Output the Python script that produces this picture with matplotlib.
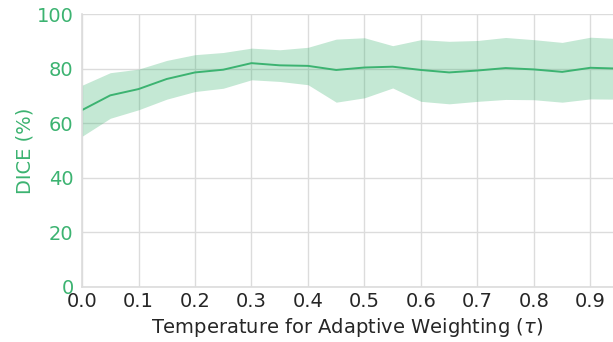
import numpy as np
import matplotlib
matplotlib.use("Agg")
import matplotlib.pyplot as plt

# temperature values and DICE (mean, upper, lower)
tau = [0.0, 0.05, 0.1, 0.15, 0.2, 0.25, 0.3, 0.35, 0.4, 0.45,
       0.5, 0.55, 0.6, 0.65, 0.7, 0.75, 0.8, 0.85, 0.9, 0.95]
dice_mean = [64.8, 70.2, 72.5, 76.2, 78.6, 79.6, 82.0, 81.2, 81.0, 79.5,
             80.4, 80.7, 79.5, 78.6, 79.3, 80.2, 79.7, 78.8, 80.3, 80.0]
dice_upper = [73.9, 78.5, 79.8, 83.0, 85.1, 85.9, 87.5, 86.9, 87.8, 90.8,
              91.3, 88.4, 90.6, 90.0, 90.3, 91.4, 90.6, 89.6, 91.5, 91.0]
dice_lower = [55.2, 61.8, 64.9, 68.8, 71.6, 72.8, 75.9, 75.3, 74.1, 67.7,
              69.3, 72.9, 68.0, 67.1, 68.0, 68.7, 68.6, 67.7, 68.9, 68.8]

xticks = [0.0, 0.1, 0.2, 0.3, 0.4, 0.5, 0.6, 0.7, 0.8, 0.9]
yticks = [0, 20, 40, 60, 80, 100]

green = "mediumseagreen"
dark = "#262626"

fig = plt.figure(figsize=(6.13, 3.42), dpi=100)
ax = fig.add_axes([0.1338, 0.161, 0.8662, 0.798])

ax.fill_between(tau, dice_lower, dice_upper, color=green, alpha=0.3, linewidth=0)
ax.plot(tau, dice_mean, color=green, linewidth=1.4)

ax.set_xlim(0, 0.94)
ax.set_ylim(0, 100)
ax.set_xticks(xticks)
ax.set_xticklabels([f"{t:.1f}" for t in xticks])
ax.set_yticks(yticks)

ax.grid(True, color="#dcdcdc", linewidth=1)
ax.set_axisbelow(True)
for s in ["top", "right"]:
    ax.spines[s].set_visible(False)
for s in ["left", "bottom"]:
    ax.spines[s].set_color("#dcdcdc")
    ax.spines[s].set_linewidth(1.2)

ax.tick_params(axis="both", length=0, labelsize=14)
ax.tick_params(axis="x", colors=dark, pad=4)
ax.tick_params(axis="y", colors=green, pad=6)

ax.set_xlabel("Temperature for Adaptive Weighting ($\\tau$)", fontsize=14, color=dark, labelpad=3)
ax.set_ylabel("DICE (%)", fontsize=14, color=green, labelpad=2)

fig.savefig("out.png", dpi=100)
